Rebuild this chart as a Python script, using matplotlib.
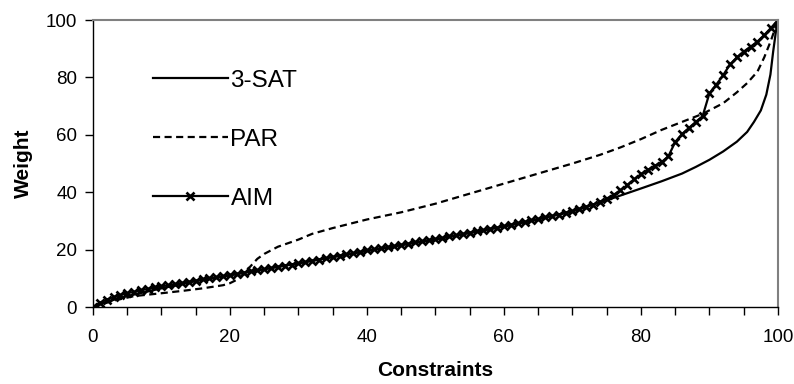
import matplotlib
matplotlib.use('Agg')
import numpy as np
import matplotlib.pyplot as plt
from matplotlib.ticker import MultipleLocator

plt.rcParams['font.family'] = ['Liberation Sans', 'DejaVu Sans']

# 3-SAT (solid)
sat_x = [0, 2, 5, 10, 15, 20, 30, 40, 50, 60, 65, 70, 75, 80, 83, 86, 88, 90,
         92, 94, 95.5, 96.5, 97.5, 98.3, 98.9, 99.3, 99.7, 100]
sat_y = [0, 1.8, 3.8, 6.5, 9, 11, 15.3, 19.5, 23.5, 28, 30.5, 33.5, 37.2, 41.3,
         43.8, 46.5, 48.8, 51.3, 54.2, 57.6, 61, 64.5, 68.5, 74, 81, 89, 96, 100]

# PAR (dashed)
par_x = [0, 3, 6, 10, 13, 16, 19, 20, 21, 22, 23, 24, 25, 27, 30, 32, 35, 40, 45,
         50, 55, 60, 65, 70, 74, 77, 80, 83, 86, 89, 92, 94, 95.5, 97, 98, 99, 100]
par_y = [0, 2.2, 3.8, 4.8, 5.6, 6.5, 7.6, 8.3, 9.5, 11.5, 14.2, 16.8, 18.5, 21,
         23.5, 25.5, 27.5, 30.5, 33, 36, 39.5, 43, 46.5, 50, 53, 55.6, 58.5,
         61.7, 64.5, 67.3, 71, 74.8, 78, 82, 87, 93, 100]

# AIM (x markers), one value per constraint 0..100
aim_x = list(range(101))
aim_y = [0, 1.5, 2.6, 3.5, 4.2, 4.8, 5.3, 5.8, 6.3, 6.8,
         7.2, 7.6, 8.0, 8.4, 8.8, 9.2, 9.6, 10.0, 10.4, 10.8,
         11.2, 11.6, 12.0, 12.4, 12.8, 13.2, 13.6, 14.0, 14.4, 14.8,
         15.2, 15.6, 16.1, 16.5, 17.0, 17.4, 17.9, 18.3, 18.8, 19.2,
         19.7, 20.1, 20.5, 20.9, 21.3, 21.7, 22.1, 22.5, 22.9, 23.3,
         23.7, 24.1, 24.6, 25.0, 25.5, 25.9, 26.4, 26.8, 27.3, 27.7,
         28.2, 28.7, 29.2, 29.7, 30.2, 30.7, 31.2, 31.7, 32.2, 32.7,
         33.3, 34.0, 34.8, 35.7, 36.7, 37.8, 39.1, 40.6, 42.5, 44.5,
         46.3, 47.8, 49.2, 50.5, 52.5, 57.5, 60.3, 62.4, 64.5, 66.5,
         74.5, 77.5, 80.8, 84.5, 87.0, 89.0, 90.7, 92.5, 94.8, 97.3,
         100]

fig = plt.figure(figsize=(7.94, 3.84), dpi=100)
ax = fig.add_axes([0.1171, 0.2005, 0.8627, 0.7474])

ax.plot(sat_x, sat_y, color='black', lw=1.6, label='3-SAT')
ax.plot(par_x, par_y, color='black', lw=1.6, dashes=(3.2, 2.0), label='PAR')
ax.plot(aim_x, aim_y, color='black', lw=1.6, marker='x', markersize=6,
        markeredgewidth=1.9, label='AIM')

ax.set_xlim(0, 100)
ax.set_ylim(0, 100)
ax.xaxis.set_major_locator(MultipleLocator(20))
ax.xaxis.set_minor_locator(MultipleLocator(5))
ax.yaxis.set_major_locator(MultipleLocator(20))
ax.tick_params(axis='both', which='both', direction='out', length=5.5, width=1,
               labelsize=13.5, colors='black')
ax.tick_params(axis='x', pad=10)
ax.tick_params(axis='y', pad=6)

for side in ['top', 'right']:
    ax.spines[side].set_color('#808080')
    ax.spines[side].set_linewidth(1.5)
for side in ['left', 'bottom']:
    ax.spines[side].set_color('black')
    ax.spines[side].set_linewidth(1)

ax.set_xlabel('Constraints', fontsize=15, fontweight='bold', labelpad=11)
ax.set_ylabel('Weight', fontsize=15, fontweight='bold', labelpad=9)

leg = ax.legend(loc='upper left', bbox_to_anchor=(0.073, 0.86), frameon=False,
                fontsize=17.5, handlelength=3.1, handletextpad=0.1,
                labelspacing=1.52, numpoints=1, borderaxespad=0)

fig.savefig('out.png', dpi=100)
